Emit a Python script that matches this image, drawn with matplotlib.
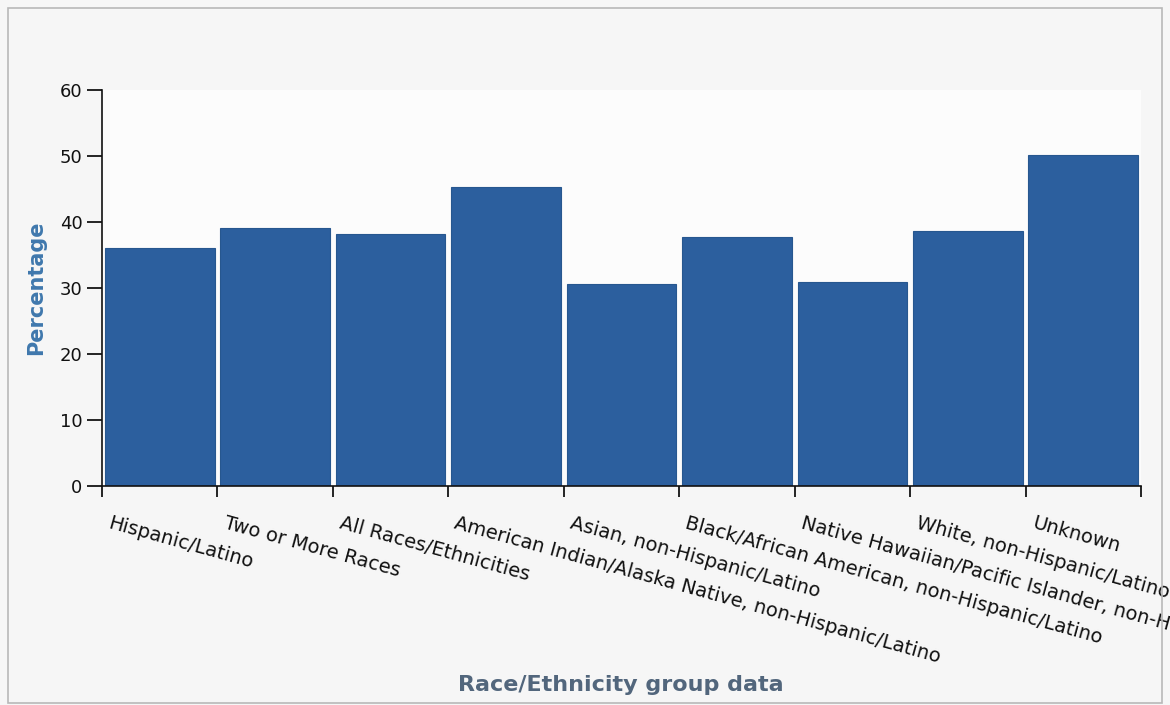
import numpy as np
import matplotlib.pyplot as plt
from matplotlib.patches import Rectangle
import matplotlib.transforms as mtransforms

# groupes et pourcentages
groups = ["Hispanic/Latino", "Two or More Races", "All Races/Ethnicities",
          "American Indian/Alaska Native, non-Hispanic/Latino",
          "Asian, non-Hispanic/Latino",
          "Black/African American, non-Hispanic/Latino",
          "Native Hawaiian/Pacific Islander, non-Hispanic/Latino",
          "White, non-Hispanic/Latino", "Unknown"]
percent = [36.1, 39.1, 38.2, 45.3, 30.6, 37.7, 30.9, 38.6, 50.2]
yticks = [0, 10, 20, 30, 40, 50, 60]

fig = plt.figure(figsize=(11.7, 7.05), dpi=100, facecolor="#f6f6f6")
fig.patches.append(Rectangle((8/1170, 2/705), 1154/1170, 695/705, transform=fig.transFigure,
                             fill=False, edgecolor="#b8b8b8", linewidth=1.2))

ax = fig.add_axes([102/1170, 1 - 486/705, 1039/1170, 396/705])
ax.set_facecolor("#fcfcfc")

x = np.arange(len(groups))
ax.bar(x, percent, width=0.95, color="#2c5f9e", edgecolor="#27578f", linewidth=0.8, zorder=2)

ax.set_xlim(-0.5, len(groups) - 0.5)
ax.set_ylim(0, 60)
ax.set_yticks(yticks)
ax.set_yticklabels([str(v) for v in yticks], fontsize=13, color="#111111")
ax.set_xticks(np.arange(len(groups) + 1) - 0.5)
ax.set_xticklabels([])
ax.tick_params(axis="y", length=11, width=1.2, pad=3)
ax.tick_params(axis="x", length=8, width=1.2)
for s in ["top", "right"]:
    ax.spines[s].set_visible(False)
for s in ["left", "bottom"]:
    ax.spines[s].set_linewidth(1.2)
    ax.spines[s].set_color("#111111")

# etiquettes inclinees, ancrees au bord gauche de chaque barre
trans = mtransforms.blended_transform_factory(ax.transData, ax.transAxes)
for i, g in enumerate(groups):
    ax.text(i - 0.5 + 0.08, -0.07, g, transform=trans, rotation=-15.5,
            rotation_mode="anchor", ha="left", va="top", fontsize=14, color="#111111")

ax.set_ylabel("Percentage", fontsize=15, fontweight="bold", color="#3f78ad", labelpad=10)
fig.text(621/1170, 1 - 685/705, "Race/Ethnicity group data", ha="center", va="center",
         fontsize=16, fontweight="bold", color="#52667c")

plt.savefig("out.png", dpi=100, facecolor=fig.get_facecolor())
